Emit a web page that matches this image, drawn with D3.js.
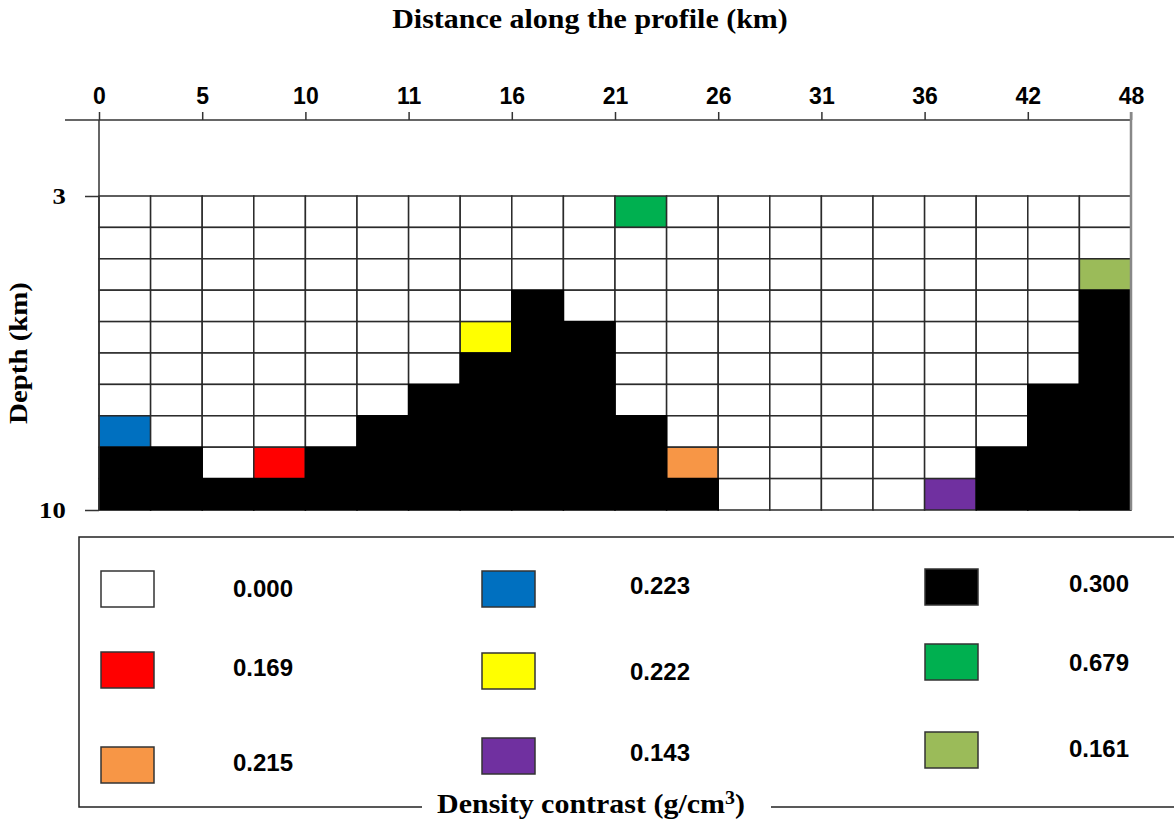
<!DOCTYPE html>
<html>
<head>
<meta charset="utf-8">
<script src="https://cdn.jsdelivr.net/npm/d3@7"></script>
<style>
body { margin:0; background:#fff; }
svg { display:block; }
</style>
</head>
<body>
<div id="chart"></div>
<script>
(function(){
var width = 1174,
	height = 821;

// distance labels along the profile (one every 2 columns)
var distLabels = ["0","5","10","11","16","21","26","31","36","42","48"];
var depthLabels = [3,10];

// density classes
var densityValues = ["0.000","0.169","0.215","0.223","0.222","0.143","0.300","0.679","0.161"];
var densityColors = ["#ffffff","#ff0000","#f79646","#0070c0","#ffff00","#7030a0","#000000","#00b050","#9bbb59"];

// class index of every block, row by row from the top
var blocks = [
	"00000000007000000000",
	"00000000000000000000",
	"00000000000000000008",
	"00000000600000000006",
	"00000004660000000006",
	"00000006660000000006",
	"00000066660000000066",
	"30000666666000000066",
	"66016666666200000666",
	"66666666666600005666"
];

// legend order: three columns of three
var legendOrder = [[0,1,2],[3,4,5],[6,7,8]];

var nCol = blocks[0].length,
	nRow = blocks.length;

var grid = {left:99, right:1131, top:196, bottom:510, axisY:120};
var serif = "'Liberation Serif', 'Times New Roman', serif",
	sans = "'Liberation Sans', Arial, sans-serif",
	stretch = 1.11;

var X = d3.scaleLinear().domain([0,nCol]).range([grid.left,grid.right]);
var R = d3.scaleBand().domain(d3.range(nRow)).range([grid.top,grid.bottom]);
var D = d3.scaleLinear().domain([3,10]).range([grid.top,grid.bottom]);

var cells = [];
blocks.forEach(function(row,r){
	row.split("").forEach(function(c,i){
		cells.push({col:i, row:r, k:+c});
	});
});
// black blocks on top so the grid does not show through them
cells.sort(function(a,b){ return (a.k==6) - (b.k==6); });

var svg = d3.select("#chart").append("svg")
	.attr("width",width)
	.attr("height",height);

// cells
svg.append("g").selectAll("rect").data(cells).enter().append("rect")
	.attr("x",function(d){return X(d.col)})
	.attr("y",function(d){return R(d.row)})
	.attr("width",X(1)-X(0))
	.attr("height",R.bandwidth())
	.attr("fill",function(d){return densityColors[d.k]})
	.attr("stroke",function(d){return d.k==6 ? "#000" : "#2a2a2a"})
	.attr("stroke-width",1.5);

// top axis
var xAxis = d3.axisTop(X)
	.tickValues(d3.range(0,nCol+1,2))
	.tickSize(8)
	.tickPadding(8)
	.tickFormat(function(d,i){return distLabels[i]});

var gx = svg.append("g")
	.attr("transform","translate(0,"+grid.axisY+")")
	.call(xAxis);
gx.select(".domain").remove();
gx.selectAll(".tick line").attr("stroke","#333").attr("stroke-width",1.5);
gx.selectAll(".tick text")
	.attr("fill","#000")
	.style("font-family",sans)
	.style("font-weight","bold")
	.style("font-size","23px");

svg.append("line")
	.attr("x1",65).attr("x2",grid.right)
	.attr("y1",grid.axisY).attr("y2",grid.axisY)
	.attr("stroke","#333").attr("stroke-width",1.5);
svg.append("line")
	.attr("x1",grid.left).attr("x2",grid.left)
	.attr("y1",grid.axisY).attr("y2",grid.bottom)
	.attr("stroke","#333").attr("stroke-width",1.5);
svg.append("line")
	.attr("x1",grid.right).attr("x2",grid.right)
	.attr("y1",grid.axisY-8).attr("y2",grid.bottom)
	.attr("stroke","#888").attr("stroke-width",2.5);

// depth axis
var yAxis = d3.axisLeft(D)
	.tickValues(depthLabels)
	.tickSize(14)
	.tickPadding(16)
	.tickFormat(d3.format("d"));

var gy = svg.append("g")
	.attr("transform","translate("+grid.left+",0)")
	.call(yAxis);
gy.select(".domain").remove();
gy.selectAll(".tick line").attr("stroke","#333").attr("stroke-width",1.5);
gy.selectAll(".tick text")
	.attr("fill","#000")
	.attr("transform","scale("+stretch+",1)")
	.style("font-family",serif)
	.style("font-weight","bold")
	.style("font-size","24px");

// titles
svg.append("text")
	.attr("transform","translate(590,28) scale("+stretch+",1)")
	.attr("text-anchor","middle")
	.style("font-family",serif)
	.style("font-weight","bold")
	.style("font-size","27px")
	.text("Distance along the profile (km)");

svg.append("text")
	.attr("transform","translate(27,353) rotate(-90) scale("+stretch+",1)")
	.attr("text-anchor","middle")
	.style("font-family",serif)
	.style("font-weight","bold")
	.style("font-size","26px")
	.text("Depth (km)");

// legend box
var lg = {left:79, top:537, bottom:807, gapL:422, gapR:771};
svg.append("path")
	.attr("d","M"+lg.gapL+","+lg.bottom+"H"+lg.left+"V"+lg.top+"H"+(width+5))
	.attr("fill","none").attr("stroke","#222").attr("stroke-width",1.5);
svg.append("line")
	.attr("x1",lg.gapR).attr("x2",width+5)
	.attr("y1",lg.bottom).attr("y2",lg.bottom)
	.attr("stroke","#222").attr("stroke-width",1.5);

var lt = svg.append("text")
	.attr("transform","translate(591,813) scale("+stretch+",1)")
	.attr("text-anchor","middle")
	.style("font-family",serif)
	.style("font-weight","bold")
	.style("font-size","27px");
lt.append("tspan").text("Density contrast (g/cm");
lt.append("tspan").attr("dy",-9).style("font-size","18px").text("3");
lt.append("tspan").attr("dy",9).text(")");

// legend layout (pixel slots per column)
var swX = [101,482,925],
	txX = [263,660,1099],
	swY = [[589,670,765],[589,671,756],[587,662,750]],
	txY = [[588,667,762],[585,671,752],[583,662,748]];

var items = [];
legendOrder.forEach(function(col,c){
	col.forEach(function(k,r){ items.push({k:k, c:c, r:r}); });
});

var li = svg.append("g").selectAll("g").data(items).enter().append("g");
li.append("rect")
	.attr("x",function(d){return swX[d.c]})
	.attr("y",function(d){return swY[d.c][d.r]-18})
	.attr("width",53).attr("height",36)
	.attr("fill",function(d){return densityColors[d.k]})
	.attr("stroke","#333").attr("stroke-width",1.5);
li.append("text")
	.attr("x",function(d){return txX[d.c]})
	.attr("y",function(d){return txY[d.c][d.r]})
	.attr("dy","0.36em")
	.attr("text-anchor","middle")
	.style("font-family",sans)
	.style("font-weight","bold")
	.style("font-size","24px")
	.text(function(d){return densityValues[d.k]});

})()
</script>
</body>
</html>
